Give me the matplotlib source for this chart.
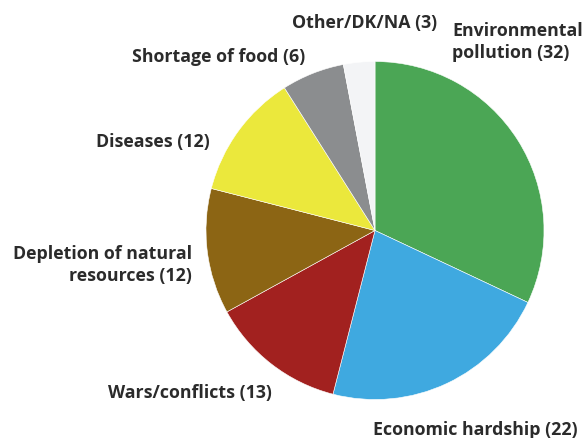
import matplotlib.pyplot as plt

# Survey shares (percent)
categories = ["Environmental\npollution", "Economic hardship", "Wars/conflicts",
              "Depletion of natural\nresources", "Diseases", "Shortage of food",
              "Other/DK/NA"]
values = [32, 22, 13, 12, 12, 6, 3]

colors = ["#4ba655", "#3fa9e0", "#a2211f", "#8c6514", "#ebe83c", "#8b8d8f", "#f3f4f6"]

# label anchor (pixel coords from top-left) and alignment
label_pos = [(452, 42, "left"), (578, 430, "right"), (272, 393, "right"),
             (192, 265, "right"), (210, 142, "right"), (305, 57, "right"),
             (437, 23, "right")]

W, H = 584, 439
fig = plt.figure(figsize=(W / 100, H / 100), dpi=100)
ax = fig.add_axes([0, 0, 1, 1])

ax.pie(values, colors=colors, startangle=90, counterclock=False,
       center=(375, H - 231.5), radius=169,
       wedgeprops=dict(edgecolor="white", linewidth=0.4))

for cat, val, (x, y, ha) in zip(categories, values, label_pos):
    ax.text(x, H - y, f"{cat} ({val})", ha=ha, va="center",
            fontsize=12.8, fontweight="bold", family="Open Sans",
            color="#2b2b2b", linespacing=1.25)

ax.set_xlim(0, W)
ax.set_ylim(0, H)
ax.set_aspect("equal")
ax.axis("off")

plt.savefig("out.png", dpi=100)
